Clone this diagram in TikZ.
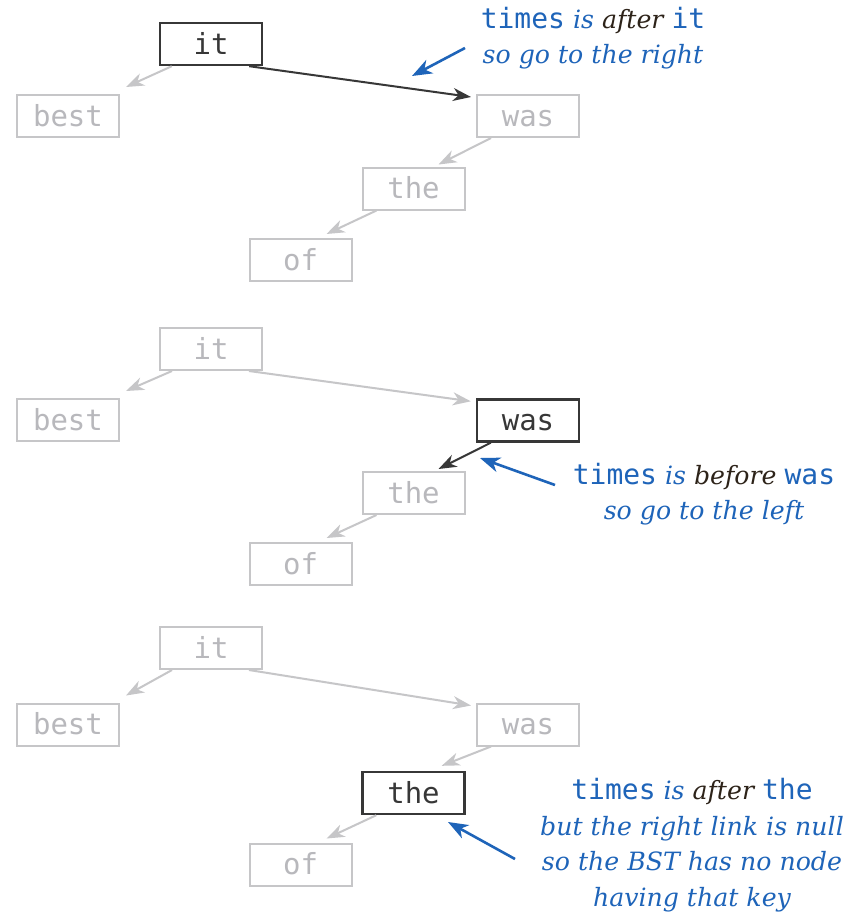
\documentclass[tikz,border=0pt]{standalone}
\usepackage{fontspec}
\setmonofont{DejaVu Sans Mono}
\newfontfamily\notefont{DejaVu Serif}
\usetikzlibrary{arrows.meta,calc}
\definecolor{lgray}{RGB}{198,198,200}
\definecolor{tgray}{RGB}{184,184,188}
\definecolor{dk}{RGB}{55,55,55}
\definecolor{bl}{RGB}{30,100,185}
\definecolor{brn}{RGB}{45,35,25}
\newcommand\kw[1]{{\upshape\fontsize{28}{35.5}\selectfont\ttfamily #1}}
\begin{document}
\begin{tikzpicture}[x=1pt,y=-1pt,
  key/.style={draw=lgray, text=tgray, line width=2pt, minimum width=102pt, minimum height=42pt,
    inner sep=0pt, text height=21pt, text depth=1pt, font=\fontsize{29}{30}\selectfont\ttfamily},
  hot/.style={draw=dk, text=dk, line width=2.4pt},
  lnk/.style={draw=lgray, line width=2pt, -{Stealth[length=18pt,width=13pt,inset=5.5pt]}},
  hotlnk/.style={draw=dk},
  note/.style={text=bl, align=center, inner sep=0pt, font=\fontsize{25.2}{35.5}\selectfont\notefont\itshape},
  ptr/.style={draw=bl, line width=2.6pt, -{Stealth[length=20pt,width=15pt,inset=6pt]}}
]
\fill[white] (0,0) rectangle (865,918);
\useasboundingbox (0,0) rectangle (865,918);

% ---------- panel 1 ----------
\node[key,hot] (it1) at (211,44) {it};
\node[key] (best1) at (68,116) {best};
\node[key] (was1) at (528,116) {was};
\node[key] (the1) at (413.5,188.5) {the};
\node[key] (of1) at (300.5,260) {of};
\draw[lnk] ($(it1.south west)+(13,0)$) -- ($(best1.north east)+(6,-7)$);
\draw[lnk,hotlnk] ($(it1.south east)+(-14,0)$) -- ($(was1.north west)+(-5,3)$);
\draw[lnk] ($(was1.south west)+(15,0)$) -- ($(the1.north east)+(-27,-2)$);
\draw[lnk] ($(the1.south west)+(15,0)$) -- ($(of1.north east)+(-26,-4)$);
\node[note] (n1) at (593,38) {\kw{times} is {\color{brn}after} \kw{it}\\so go to the right};
\coordinate (p1s) at (465,48);
\coordinate (p1e) at (412,76);
\draw[ptr] (p1s) -- (p1e);

% ---------- panel 2 ----------
\node[key] (it2) at (211,349) {it};
\node[key] (best2) at (68,420) {best};
\node[key,hot] (was2) at (528,420.5) {was};
\node[key] (the2) at (413.5,493) {the};
\node[key] (of2) at (300.5,564) {of};
\draw[lnk] ($(it2.south west)+(13,0)$) -- ($(best2.north east)+(6,-7)$);
\draw[lnk] ($(it2.south east)+(-14,0)$) -- ($(was2.north west)+(-5,3)$);
\draw[lnk,hotlnk] ($(was2.south west)+(15,0)$) -- ($(the2.north east)+(-27,-2)$);
\draw[lnk] ($(the2.south west)+(15,0)$) -- ($(of2.north east)+(-26,-4)$);
\node[note] (n2) at (704,494) {\kw{times} is {\color{brn}before} \kw{was}\\so go to the left};
\coordinate (p2s) at (555,485);
\coordinate (p2e) at (480,458);
\draw[ptr] (p2s) -- (p2e);

% ---------- panel 3 ----------
\node[key] (it3) at (211,648) {it};
\node[key] (best3) at (68,724.5) {best};
\node[key] (was3) at (528,724.5) {was};
\node[key,hot] (the3) at (413.5,793) {the};
\node[key] (of3) at (300.5,864.5) {of};
\draw[lnk] ($(it3.south west)+(13,0)$) -- ($(best3.north east)+(6,-7)$);
\draw[lnk] ($(it3.south east)+(-14,0)$) -- ($(was3.north west)+(-5,3)$);
\draw[lnk] ($(was3.south west)+(15,0)$) -- ($(the3.north east)+(-24,-5)$);
\draw[lnk] ($(the3.south west)+(15,0)$) -- ($(of3.north east)+(-26,-4)$);
\node[note] (n3) at (692,845) {\kw{times} is {\color{brn}after}\ \kw{the}\\but the right link is null\\so the BST has no node\\having that key};
\coordinate (p3s) at (515,859);
\coordinate (p3e) at (448,822);
\draw[ptr] (p3s) -- (p3e);
\end{tikzpicture}
\end{document}
